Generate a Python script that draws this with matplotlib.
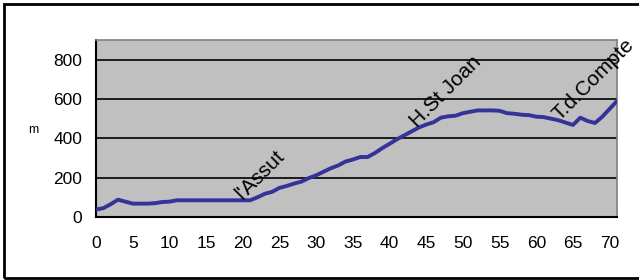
import matplotlib
matplotlib.use("Agg")
import matplotlib.pyplot as plt
from matplotlib.patches import Rectangle
import numpy as np

km = list(range(72))
altitude = [38, 45, 65, 88, 78, 68, 68, 68, 70, 76,
            78, 85, 85, 85, 85, 85, 85, 85, 85, 85,
            85, 85, 100, 118, 128, 148, 158, 170, 180, 198,
            212, 230, 248, 262, 282, 292, 305, 305, 325, 350,
            372, 395, 415, 435, 455, 470, 482, 505, 512, 515,
            528, 535, 542, 542, 542, 540, 528, 525, 520, 518,
            510, 508, 500, 492, 480, 468, 505, 488, 478, 510,
            550, 590]
xticks = list(range(0, 71, 5))
yticks = [0, 200, 400, 600, 800]
places = ["l'Assut", "H.St Joan", "T.d.Compte"]
place_x = [20.0, 43.8, 63.2]
place_y = [88, 455, 488]

plt.rcParams['font.family'] = ['Liberation Sans', 'DejaVu Sans']

W, H = 639, 280
fig = plt.figure(figsize=(W / 100, H / 100), dpi=100)
fig.patch.set_facecolor('white')

left, right, top, bottom = 96, 617, 40, 217
ax = fig.add_axes([left / W, (H - bottom) / H, (right - left) / W, (bottom - top) / H])
ax.set_facecolor('#C0C0C0')

ax.plot(km, altitude, color='#333399', lw=2.8, solid_joinstyle='round', zorder=3)

ax.set_xlim(0, 71)
ax.set_ylim(0, 900)
ax.set_xticks(xticks)
ax.set_yticks(yticks)
ax.tick_params(axis='both', length=0, labelsize=12.5)
ax.tick_params(axis='x', pad=14)
ax.tick_params(axis='y', pad=10)
for yv in yticks[1:]:
    ax.axhline(yv, color='black', lw=1.2, zorder=2)

ax.spines['left'].set_color('black')
ax.spines['bottom'].set_color('black')
ax.spines['left'].set_linewidth(1.5)
ax.spines['bottom'].set_linewidth(1.5)
ax.spines['top'].set_color('#808080')
ax.spines['right'].set_color('#808080')
ax.spines['top'].set_linewidth(1.2)
ax.spines['right'].set_linewidth(1.2)

for name, px, py in zip(places, place_x, place_y):
    ax.text(px, py, name, rotation=45, rotation_mode='anchor', ha='left',
            va='baseline', fontsize=15, clip_on=False, zorder=4)

fig.text(33 / W, 1 - 130 / H, 'm', fontsize=9, ha='center', va='center')

# figure border
fig.add_artist(Rectangle((4 / W, 2 / H), 1.2, (H - 6) / H, transform=fig.transFigure,
                         fill=False, edgecolor='black', lw=2))

fig.savefig('out.png', dpi=100, facecolor='white')
